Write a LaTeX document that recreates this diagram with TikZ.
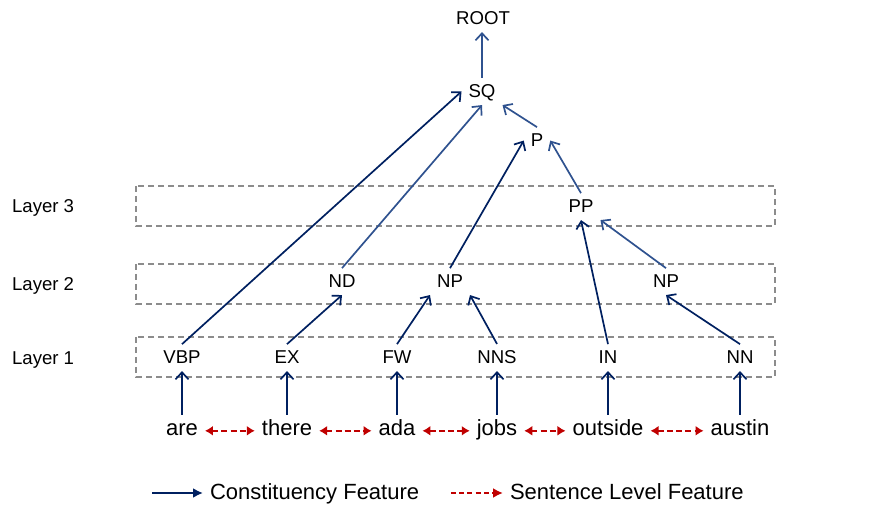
\documentclass[tikz,border=0pt]{standalone}
\usepackage{fontspec}
\setmainfont{Liberation Sans}
\usetikzlibrary{arrows.meta}
\definecolor{navy}{RGB}{0,32,96}
\definecolor{lightnavy}{RGB}{47,82,143}
\definecolor{sentred}{RGB}{192,0,0}
\definecolor{boxgray}{RGB}{140,140,140}

\begin{document}
\begin{tikzpicture}[x=0.5pt,y=-0.5pt,
  tag/.style={anchor=base,font=\fontsize{9.3}{11}\selectfont,text depth=0pt},
  word/.style={anchor=base,font=\fontsize{11}{13}\selectfont,text height=0.72em,text depth=0.2em},
  layerlabel/.style={anchor=base west,font=\fontsize{9.3}{11}\selectfont},
  layerbox/.style={draw=boxgray,line width=0.75pt,dash pattern=on 3pt off 2pt},
  cons/.style={-{Straight Barb[length=3.5pt,width=6.5pt,line width=0.85pt]},line width=0.85pt,navy},
  consl/.style={cons,lightnavy},
  sent/.style={{Latex[length=4pt,width=5pt]}-{Latex[length=4pt,width=5pt]},line width=1.1pt,sentred,dash pattern=on 3pt off 1.6pt},
  legarrow/.style={-{Latex[length=5pt,width=5pt]},line width=1pt}]

\useasboundingbox (0,0) rectangle (877,512);

%%%%% Layer boxes
\draw[layerbox] (136,186) rectangle (775,226);
\draw[layerbox] (136,264) rectangle (775,304);
\draw[layerbox] (136,337) rectangle (775,377);

\node (lay3) [layerlabel] at (5,213) {Layer 3}; \node (lay2) [layerlabel] at (5,291) {Layer 2}; \node (lay1) [layerlabel] at (5,365) {Layer 1};

%%%%% Tree
\node (root) [tag] at (483,25) {ROOT}; \node (sq) [tag] at (482,98) {SQ}; \node (p) [tag] at (537,147) {P}; \node (pp) [tag] at (581,213) {PP};
\node (nd) [tag] at (342,288) {ND}; \node (np) [tag] at (450,288) {NP}; \node (npr) [tag] at (666,288) {NP};
\node (vbp) [tag] at (182,364) {VBP}; \node (ex) [tag] at (287,364) {EX}; \node (fw) [tag] at (397,364) {FW};
\node (nns) [tag] at (497,364) {NNS}; \node (in) [tag] at (608,364) {IN}; \node (nn) [tag] at (740,364) {NN};

\draw[consl] (sq.north) -- (sq.north |- root.south); \draw[consl] (p.north) -- (sq.south east); \draw[consl] (pp.north) -- (p.east);
\draw[cons] (vbp.north) -- (sq.west); \draw[consl] (nd.north) -- (sq.south); \draw[cons] (np.north) -- (p.west);
\draw[cons] (in.north) -- (pp.south); \draw[consl] (npr.north) -- (pp.south east);
\draw[cons] (ex.north) -- (nd.south); \draw[cons] (fw.north) -- (np.south west); \draw[cons] (nns.north) -- (np.south east);
\draw[cons] (nn.north) -- (npr.south);

%%%%% Words
\node (are) [word] at (182,436) {are}; \node (there) [word] at (287,436) {there}; \node (ada) [word] at (397,436) {ada};
\node (jobs) [word] at (497,436) {jobs}; \node (outside) [word] at (608,436) {outside}; \node (austin) [word] at (740,436) {austin};

\draw[cons] (are) -- (vbp); \draw[cons] (there) -- (ex); \draw[cons] (ada) -- (fw);
\draw[cons] (jobs) -- (nns); \draw[cons] (outside) -- (in); \draw[cons] (austin) -- (nn);

\draw[sent] (are.east) -- (there.west); \draw[sent] (there.east) -- (ada.west); \draw[sent] (ada.east) -- (jobs.west);
\draw[sent] (jobs.east) -- (outside.west); \draw[sent] (outside.east) -- (austin.west);

%%%%% Legend
\coordinate (consstart) at (152,493); \node (consleg) [word,anchor=base west] at (203,499) {Constituency Feature};
\coordinate (sentstart) at (451,493); \node (sentleg) [word,anchor=base west] at (503,499) {Sentence Level Feature};
\draw[legarrow,navy] (consstart) -- (consstart -| consleg.west);
\draw[legarrow,sentred,dash pattern=on 2.5pt off 1.6pt] (sentstart) -- (sentstart -| sentleg.west);

\end{tikzpicture}
\end{document}
